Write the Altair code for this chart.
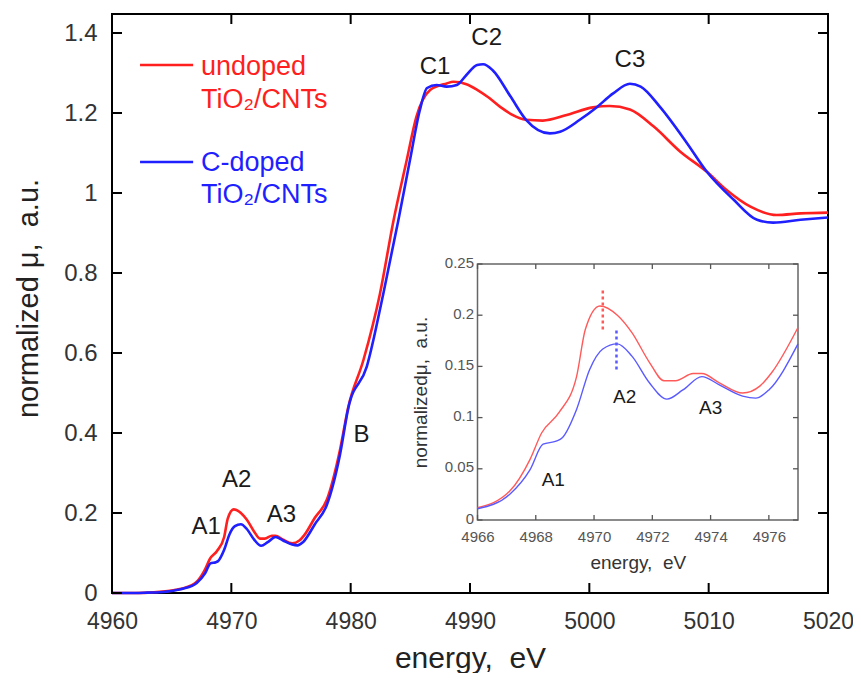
import altair as alt
import pandas as pd

# ---------------- data ----------------
red_energy = [4960, 4961, 4962, 4963, 4964, 4965, 4965.5,
              4966.0, 4967.1, 4967.8, 4968.2, 4968.8, 4969.4, 4969.7, 4970.2, 4970.8,
              4971.3, 4971.9, 4972.4, 4972.8, 4973.4, 4973.7, 4974.3, 4975.1, 4975.7,
              4976.1, 4977.0,
              4978.0, 4979.1, 4979.8, 4981.07, 4982.46, 4983.6, 4984.7, 4985.5, 4986.66,
              4988.05, 4988.6, 4989.7, 4990.6, 4991.5, 4992.5, 4994.7, 4996.1, 4998.1,
              5000.3, 5001.7, 5003.4, 5005.4, 5007.6, 5009.85, 5011.5, 5013.5, 5015.7,
              5017.7, 5020]
red_mu = [0.0, 0.0, 0.0, 0.001, 0.003, 0.006, 0.009,
          0.012, 0.028, 0.059, 0.085, 0.105, 0.14, 0.186, 0.209, 0.2,
          0.183, 0.154, 0.136, 0.136, 0.143, 0.143, 0.134, 0.124, 0.131,
          0.144, 0.188,
          0.233, 0.357, 0.465, 0.5825, 0.749, 0.9325, 1.0825, 1.19, 1.2575,
          1.274, 1.278, 1.272, 1.258, 1.24, 1.216, 1.183, 1.181, 1.195,
          1.214, 1.2175, 1.209, 1.166, 1.104, 1.053, 1.0075, 0.966, 0.945,
          0.949, 0.951]

blue_energy = [4960, 4961, 4962, 4963, 4964, 4965, 4965.5,
               4966.0, 4967.1, 4967.8, 4968.25, 4968.7, 4968.9, 4969.4, 4969.85, 4970.3,
               4970.8, 4971.3, 4971.9, 4972.5, 4973.05, 4973.7, 4974.3, 4975.1, 4975.55,
               4976.0, 4977.0,
               4978.0, 4979.1, 4979.8, 4981.35, 4982.74, 4984.0, 4984.97, 4985.8, 4986.4,
               4987.2, 4988.05, 4988.9, 4989.7, 4990.6, 4991.1, 4991.9, 4993.4, 4994.7,
               4996.7, 4997.55, 4999.2, 5000.6, 5002.0, 5003.4, 5004.3, 5005.9, 5008.2,
               5009.85, 5012.1, 5014.05, 5015.4, 5017.7, 5020]
blue_mu = [0.0, 0.0, 0.0, 0.001, 0.002, 0.005, 0.008,
           0.011, 0.025, 0.049, 0.074, 0.077, 0.08, 0.108, 0.147, 0.167,
           0.172, 0.16, 0.134, 0.118, 0.127, 0.14, 0.132, 0.121, 0.119,
           0.127, 0.172,
           0.22, 0.345, 0.462, 0.566, 0.749, 0.9325, 1.0825, 1.2075, 1.2625,
           1.27, 1.266, 1.27, 1.295, 1.32, 1.322, 1.307, 1.241, 1.183,
           1.149, 1.153, 1.183, 1.214, 1.249, 1.273, 1.266, 1.216, 1.124,
           1.053, 0.983, 0.933, 0.926, 0.933, 0.939]

series_names = ["undoped", "C-doped"]
series_colors = ["#ff1f1f", "#1f1fff"]
inset_colors = ["#ff5a5a", "#5a5aff"]

x_ticks_main = [4960, 4970, 4980, 4990, 5000, 5010, 5020]
y_ticks_main = [0, 0.2, 0.4, 0.6, 0.8, 1.0, 1.2, 1.4]
x_ticks_inset = [4966, 4968, 4970, 4972, 4974, 4976]
y_ticks_inset = [0, 0.05, 0.1, 0.15, 0.2, 0.25]

peak_text = ["A1", "A2", "A3", "B", "C1", "C2", "C3"]
peak_energy = [4967.9, 4970.45, 4974.2, 4980.9, 4987.07, 4991.4, 5003.4]
peak_mu = [0.166, 0.2825, 0.195, 0.395, 1.316, 1.387, 1.3325]

inset_text = ["A1", "A2", "A3"]
inset_text_energy = [4968.6, 4971.05, 4974.0]
inset_text_mu = [0.039, 0.12, 0.109]

marker_energy = [4970.3, 4970.77]
marker_lo = [0.186, 0.147]
marker_hi = [0.225, 0.186]

legend_line_energy = [4962.35, 4966.8]
legend_line_mu = [1.32, 1.0775]
legend_text_lines = ["undoped", "TiO\u2082/CNTs", "C-doped", "TiO\u2082/CNTs"]
legend_text_series = ["undoped", "undoped", "C-doped", "C-doped"]
legend_text_mu = [1.315, 1.2325, 1.075, 0.995]
legend_text_energy = 4967.46

# ---------------- geometry / scales ----------------
X_DOM = [4960, 5020]
Y_DOM = [0, 1.4475]
XI_DOM = [4966, 4977]
YI_DOM = [0, 0.25]
W, H = 716, 579
XI_RANGE = [365.5, 686]
YI_RANGE = [506, 250]
FONT = "Liberation Sans"
NB = "\u00a0"

color_scale = alt.Scale(domain=series_names, range=series_colors)
inset_color_scale = alt.Scale(domain=series_names, range=inset_colors)

x_main_scale = alt.Scale(domain=X_DOM, nice=False, zero=False)
y_main_scale = alt.Scale(domain=Y_DOM, nice=False, zero=False)
x_in_scale = alt.Scale(domain=XI_DOM, range=XI_RANGE, nice=False, zero=False)
y_in_scale = alt.Scale(domain=YI_DOM, range=YI_RANGE, nice=False, zero=False)

x_main_axis = alt.Axis(values=x_ticks_main, format="d", orient="bottom", grid=False,
                       ticks=False, tickSize=0, domain=False, labelFlush=False,
                       labelOverlap=False, labelFontSize=23, labelColor="#333",
                       labelPadding=17, title="energy," + NB + " eV", titleFontSize=30,
                       titleFontWeight="normal", titleColor="#222", titleY=74,
                       titleBaseline="alphabetic")
y_main_axis = alt.Axis(values=y_ticks_main, format="~g", orient="left", grid=False,
                       ticks=False, tickSize=0, domain=False, labelFlush=False,
                       labelOverlap=False, labelFontSize=24, labelColor="#333",
                       labelPadding=15, title="normalized \u03bc," + NB + " a.u.",
                       titleFontSize=29, titleFontWeight="normal", titleColor="#222",
                       titleX=-75, titleY=284, titleBaseline="alphabetic",
                       titleAlign="center")
x_in_axis = alt.Axis(values=x_ticks_inset, format="d", orient="bottom", offset=-73,
                     grid=False, ticks=False, tickSize=0, domain=False, labelFlush=False,
                     labelOverlap=False, labelFontSize=15, labelColor="#555",
                     labelPadding=9, title="energy," + NB + " eV", titleFontSize=19,
                     titleFontWeight="normal", titleColor="#333", titleY=48,
                     titleBaseline="alphabetic")
y_in_axis = alt.Axis(values=y_ticks_inset, format="~g", orient="left", offset=-365.5,
                     grid=False, ticks=False, tickSize=0, domain=False, labelFlush=False,
                     labelOverlap=False, labelFontSize=15, labelColor="#555",
                     labelPadding=4, labelOffset=-2,
                     title="normalized\u03bc," + NB + " a.u.", titleFontSize=19,
                     titleFontWeight="normal", titleColor="#333", titleX=-51,
                     titleBaseline="alphabetic", titleAlign="center")


def mx(field=None, datum=None):
    if field is not None:
        return alt.X(field, type="quantitative", scale=x_main_scale, axis=x_main_axis)
    return alt.X(datum=datum, type="quantitative", scale=x_main_scale, axis=x_main_axis)


def my(field=None, datum=None):
    if field is not None:
        return alt.Y(field, type="quantitative", scale=y_main_scale, axis=y_main_axis)
    return alt.Y(datum=datum, type="quantitative", scale=y_main_scale, axis=y_main_axis)


def ix(field=None, datum=None):
    if field is not None:
        return alt.X(field, type="quantitative", scale=x_in_scale, axis=x_in_axis)
    return alt.X(datum=datum, type="quantitative", scale=x_in_scale, axis=x_in_axis)


def iy(field=None, datum=None):
    if field is not None:
        return alt.Y(field, type="quantitative", scale=y_in_scale, axis=y_in_axis)
    return alt.Y(datum=datum, type="quantitative", scale=y_in_scale, axis=y_in_axis)


# ---------------- tables ----------------
curves = pd.concat([
    pd.DataFrame({"e": red_energy, "mu": red_mu, "s": "undoped"}),
    pd.DataFrame({"e": blue_energy, "mu": blue_mu, "s": "C-doped"}),
], ignore_index=True)
inset_curves = curves[(curves.e >= XI_DOM[0]) & (curves.e <= XI_DOM[1])]

one = pd.DataFrame({"k": [0]})

# ---------------- main panel ----------------
lines_red = alt.Chart(curves[curves.s == "undoped"]).mark_line(
    strokeWidth=2.6, interpolate="monotone", color=series_colors[0]).encode(x=mx("e"), y=my("mu"))
lines_blue = alt.Chart(curves[curves.s == "C-doped"]).mark_line(
    strokeWidth=2.6, interpolate="monotone", color=series_colors[1]).encode(x=mx("e"), y=my("mu"))

tick_len = 10
xt = pd.DataFrame({"e": x_ticks_main})
yt = pd.DataFrame({"v": y_ticks_main})
rule_style = dict(color="black", strokeWidth=2)
bottom_ticks = alt.Chart(xt).mark_rule(y2Offset=-tick_len, **rule_style).encode(
    x=mx("e"), y=my(datum=Y_DOM[0]), y2=alt.Y2(datum=Y_DOM[0]))
top_ticks = alt.Chart(xt).mark_rule(y2Offset=tick_len, **rule_style).encode(
    x=mx("e"), y=my(datum=Y_DOM[1]), y2=alt.Y2(datum=Y_DOM[1]))
left_ticks = alt.Chart(yt).mark_rule(x2Offset=tick_len, **rule_style).encode(
    y=my("v"), x=mx(datum=X_DOM[0]), x2=alt.X2(datum=X_DOM[0]))
right_ticks = alt.Chart(yt).mark_rule(x2Offset=-tick_len, **rule_style).encode(
    y=my("v"), x=mx(datum=X_DOM[1]), x2=alt.X2(datum=X_DOM[1]))

peaks = alt.Chart(pd.DataFrame({"t": peak_text, "e": peak_energy, "mu": peak_mu})).mark_text(
    fontSize=24, font=FONT, color="#1a1a1a").encode(x=mx("e"), y=my("mu"), text="t:N")

leg_lines = alt.Chart(pd.DataFrame({"s": series_names, "mu": legend_line_mu,
                                    "e0": [legend_line_energy[0]] * 2,
                                    "e1": [legend_line_energy[1]] * 2})).mark_rule(
    strokeWidth=2.6).encode(x=mx("e0"), x2="e1:Q", y=my("mu"),
                            color=alt.Color("s:N", scale=color_scale, legend=None))
leg_text = alt.Chart(pd.DataFrame({"t": legend_text_lines, "s": legend_text_series,
                                   "mu": legend_text_mu,
                                   "e": [legend_text_energy] * 4})).mark_text(
    fontSize=27, font=FONT, align="left", baseline="middle").encode(
    x=mx("e"), y=my("mu"), text="t:N",
    color=alt.Color("s:N", scale=color_scale, legend=None))

main = alt.layer(lines_red, lines_blue, bottom_ticks, top_ticks, left_ticks, right_ticks,
                 peaks, leg_lines, leg_text)

# ---------------- inset ----------------
frame = alt.Chart(one).mark_rect(fill="white", stroke="#666", strokeWidth=1.5).encode(
    x=ix(datum=XI_DOM[0]), x2=alt.X2(datum=XI_DOM[1]),
    y=iy(datum=YI_DOM[0]), y2=alt.Y2(datum=YI_DOM[1]))

itl = 5
ixt = pd.DataFrame({"e": x_ticks_inset})
iyt = pd.DataFrame({"v": y_ticks_inset})
irule = dict(color="#555", strokeWidth=1.3)
i_bottom = alt.Chart(ixt).mark_rule(y2Offset=-itl, **irule).encode(
    x=ix("e"), y=iy(datum=YI_DOM[0]), y2=alt.Y2(datum=YI_DOM[0]))
i_top = alt.Chart(ixt).mark_rule(y2Offset=itl, **irule).encode(
    x=ix("e"), y=iy(datum=YI_DOM[1]), y2=alt.Y2(datum=YI_DOM[1]))
i_left = alt.Chart(iyt).mark_rule(x2Offset=itl, **irule).encode(
    y=iy("v"), x=ix(datum=XI_DOM[0]), x2=alt.X2(datum=XI_DOM[0]))
i_right = alt.Chart(iyt).mark_rule(x2Offset=-itl, **irule).encode(
    y=iy("v"), x=ix(datum=XI_DOM[1]), x2=alt.X2(datum=XI_DOM[1]))

i_red = alt.Chart(inset_curves[inset_curves.s == "undoped"]).mark_line(
    strokeWidth=1.4, interpolate="monotone", color=inset_colors[0]).encode(x=ix("e"), y=iy("mu"))
i_blue = alt.Chart(inset_curves[inset_curves.s == "C-doped"]).mark_line(
    strokeWidth=1.4, interpolate="monotone", color=inset_colors[1]).encode(x=ix("e"), y=iy("mu"))

markers = alt.Chart(pd.DataFrame({"s": series_names, "e": marker_energy,
                                  "lo": marker_lo, "hi": marker_hi})).mark_rule(
    strokeWidth=2.5, strokeDash=[3, 3]).encode(
    x=ix("e"), y=iy("lo"), y2="hi:Q",
    color=alt.Color("s:N", scale=inset_color_scale, legend=None))

i_labels = alt.Chart(pd.DataFrame({"t": inset_text, "e": inset_text_energy,
                                   "mu": inset_text_mu})).mark_text(
    fontSize=19, font=FONT, color="#1a1a1a").encode(x=ix("e"), y=iy("mu"), text="t:N")

inset = alt.layer(frame, i_red, i_blue, markers, i_bottom, i_top, i_left, i_right, i_labels)

chart = alt.layer(main, inset).resolve_scale(
    x="independent", y="independent", color="independent"
).properties(
    width=W, height=H,
    padding={"left": 104, "top": 6, "right": 25, "bottom": 80},
    autosize=alt.AutoSizeParams(type="none"),
).configure(font=FONT, background="white").configure_view(stroke="black", strokeWidth=2)

chart.save("out.html", embed_options={"renderer": "svg", "actions": False})
